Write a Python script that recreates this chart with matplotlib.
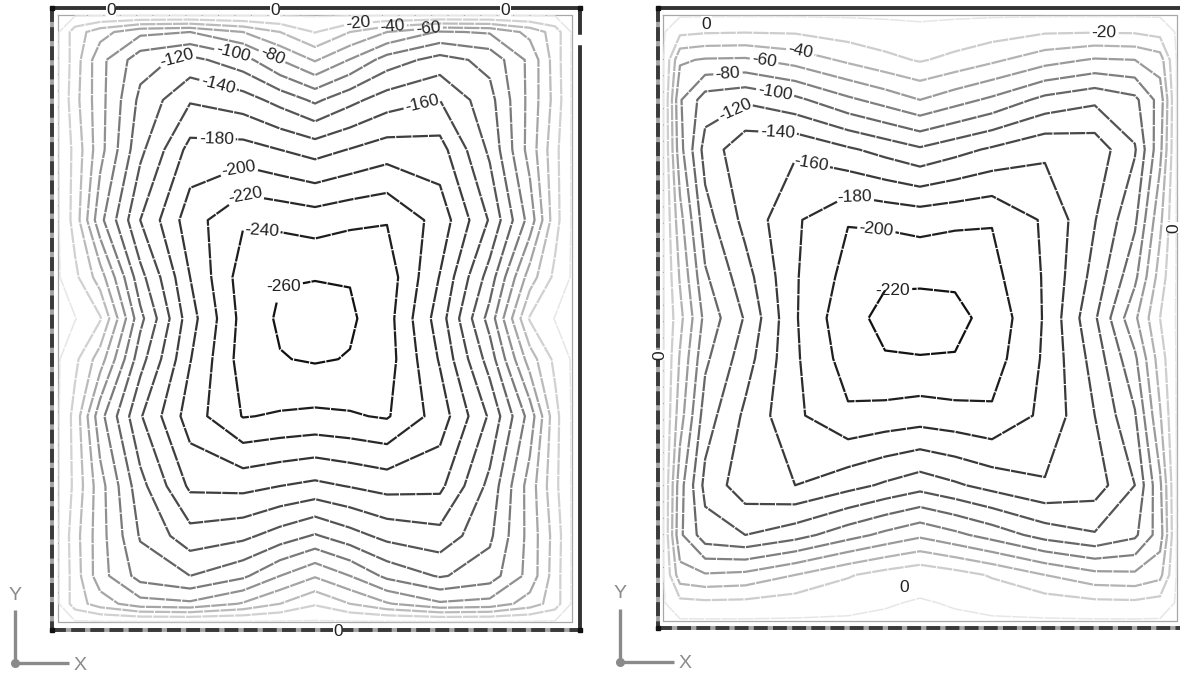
import numpy as np
import matplotlib
matplotlib.use("Agg")
import matplotlib.pyplot as plt
from matplotlib.colors import LinearSegmentedColormap, Normalize

plt.rcParams["font.family"] = ["Liberation Sans", "DejaVu Sans"]
plt.rcParams["lines.scale_dashes"] = False

# Node positions as fractions of plate width (left -> right) and height (top -> bottom)
x_nodes = [0.0, 0.033, 0.082, 0.160, 0.257, 0.360, 0.432, 0.500,
           0.568, 0.640, 0.743, 0.840, 0.918, 0.967, 1.0]
y_nodes = [0.0, 0.028, 0.074, 0.140, 0.222, 0.338, 0.432, 0.500,
           0.567, 0.661, 0.776, 0.858, 0.924, 0.970, 1.0]

# Deflection at the nodes, rows from top edge to bottom edge
slab_a = [
    [2,   2,   2,    2,    2,    2,    2,    2,    2,    2,    2,    2,   2,   2, 2],
    [2, -30, -52,  -75,  -80,  -60,  -40,  -19,  -40,  -60,  -82,  -78, -54, -31, 2],
    [2, -30, -74, -112, -126, -108,  -80,  -58,  -81, -109, -128, -114, -75, -31, 2],
    [2, -33, -73, -125, -158, -149, -133, -116, -134, -150, -160, -127, -74, -33, 2],
    [2, -26, -73, -135, -187, -188, -180, -172, -181, -190, -188, -136, -72, -26, 2],
    [2, -28, -94, -160, -211, -238, -235, -231, -236, -239, -212, -158, -92, -28, 2],
    [2, -15, -50, -133, -200, -250, -259, -259, -259, -251, -199, -131, -50, -15, 2],
    [2,   1, -18, -114, -192, -247, -263, -270, -263, -248, -190, -112, -18,   1, 2],
    [2, -15, -50, -132, -199, -249, -259, -262, -259, -249, -198, -131, -50, -15, 2],
    [2, -27, -93, -158, -210, -241, -238, -236, -238, -242, -211, -157, -92, -27, 2],
    [2, -25, -72, -133, -184, -186, -180, -175, -181, -187, -185, -134, -71, -25, 2],
    [2, -32, -72, -122, -152, -145, -131, -118, -132, -146, -153, -124, -73, -32, 2],
    [2, -30, -72, -108, -120, -104,  -80,  -62,  -80, -105, -122, -110, -73, -30, 2],
    [2, -30, -50,  -72,  -76,  -58,  -40,  -22,  -40,  -58,  -77,  -73, -51, -30, 2],
    [2,   2,   2,    2,    2,    2,    2,    2,    2,    2,    2,    2,   2,   2, 2],
]

slab_b = [
    [2,   2,    2,    2,    2,    2,    2,    2,    2,    2,    2,    2,    2,   2, 2],
    [2, -15,  -18,  -19,  -18,  -11,   -6,   -3,   -6,  -11,  -18,  -19,  -18, -13, 2],
    [2, -57,  -62,  -63,  -52,  -36,  -26,  -18,  -26,  -36,  -52,  -62,  -60, -50, 2],
    [2, -78, -110, -117, -105,  -84,  -72,  -60,  -72,  -84, -106, -116, -105, -72, 2],
    [2, -73, -128, -154, -157, -143, -133, -123, -133, -143, -156, -152, -122, -66, 2],
    [2, -53, -112, -146, -177, -199, -196, -193, -196, -199, -177, -141, -104, -45, 2],
    [2, -42,  -97, -132, -178, -207, -218, -216, -217, -206, -178, -133,  -85, -31, 2],
    [2, -34,  -86, -122, -178, -215, -224, -230, -225, -214, -178, -123,  -64, -20, 2],
    [2, -42,  -96, -131, -177, -209, -219, -219, -219, -209, -177, -132,  -84, -30, 2],
    [2, -51, -110, -144, -176, -197, -193, -190, -193, -197, -175, -140, -102, -42, 2],
    [2, -72, -126, -152, -160, -147, -137, -128, -137, -147, -158, -150, -120, -64, 2],
    [2, -76, -112, -120, -108,  -88,  -75,  -64,  -75,  -88, -108, -118, -104, -70, 2],
    [2, -52,  -58,  -55,  -40,  -22,  -12,   -5,  -12,  -22,  -40,  -54,  -56, -46, 2],
    [2, -14,  -16,  -15,  -10,   -5,   -1,    1,   -1,   -5,  -10,  -15,  -16, -12, 2],
    [2,   2,    2,    2,    2,    2,    2,    2,    2,    2,    2,    2,    2,   2, 2],
]

levels_a = [-260, -240, -220, -200, -180, -160, -140, -120, -100, -80, -60, -40, -20, 0]
levels_b = [-220, -200, -180, -160, -140, -120, -100, -80, -60, -40, -20, 0]

# Where each contour value is written (plate fractions)
label_pos_a = {
    -20: (0.584, 0.010), -40: (0.650, 0.013), -60: (0.720, 0.016),
    -80: (0.416, 0.069), -100: (0.342, 0.058), -120: (0.228, 0.054),
    -140: (0.313, 0.110), -160: (0.708, 0.143), -180: (0.309, 0.181),
    -200: (0.339, 0.226), -220: (0.368, 0.275), -240: (0.397, 0.338),
    -260: (0.436, 0.432),
}
label_pos_b = {
    -20: (0.858, 0.040), -40: (0.267, 0.061), -60: (0.198, 0.069),
    -80: (0.126, 0.094), -100: (0.220, 0.119), -120: (0.136, 0.150),
    -140: (0.224, 0.178), -160: (0.292, 0.228), -180: (0.375, 0.292),
    -200: (0.414, 0.366), -220: (0.447, 0.449),
}
upright_a = {-260}
upright_b = {-220}
# Zero values marked along the edges: (x, y, rotation)
zero_pos_a = [(0.103, -0.008, 0), (0.422, -0.008, 0), (0.870, -0.008, 0), (0.545, 1.015, 0)]
zero_pos_b = [(0.084, 0.015, 0), (0.469, 0.944, 0), (-0.006, 0.561, 90), (0.994, 0.351, 90)]

W, H = 1180, 677
fig = plt.figure(figsize=(W / 100, H / 100), dpi=100)

line_cmap = LinearSegmentedColormap.from_list("slab_grey", ["#121212", "#5a5a5a", "#e6e6e6"])
LABEL_SIZE = 12.5
TEXT_COLOR = "#222222"
LINE_DASH = (0, (11, 0.8))


def add_panel(outer, inner):
    """Axes covering the outer frame; data units are plate fractions."""
    ox0, oy0, ox1, oy1 = outer
    ix0, iy0, ix1, iy1 = inner
    ax = fig.add_axes([ox0 / W, 1 - oy1 / H, (ox1 - ox0) / W, (oy1 - oy0) / H])
    pw, ph = ix1 - ix0, iy1 - iy0
    ax.set_xlim((ox0 - ix0) / pw, (ox1 - ix0) / pw)
    ax.set_ylim((oy1 - iy0) / ph, (oy0 - iy0) / ph)
    ax.set_axis_off()
    return ax


def draw_border(ax, sides):
    x0, x1 = ax.get_xlim()
    yb, yt = ax.get_ylim()
    segs = {
        "top": ([x0, x1], [yt, yt]),
        "bottom": ([x0, x1], [yb, yb]),
        "left": ([x0, x0], [yt, yb]),
        "right": ([x1, x1], [yt, yb]),
    }
    for side, style in sides.items():
        xs, ys = segs[side]
        if style == "solid":
            ax.plot(xs, ys, color="#333333", lw=2.8, solid_capstyle="butt",
                    clip_on=False, zorder=6)
        else:
            ax.plot(xs, ys, color="#a3a3a3", lw=2.8, solid_capstyle="butt",
                    clip_on=False, zorder=6)
            ax.plot(xs, ys, color="#3a3a3a", lw=2.8, linestyle=(0, (10, 3.8)),
                    dash_capstyle="butt", clip_on=False, zorder=7)
    # inner plate outline
    ax.plot([0, 1, 1, 0, 0], [0, 0, 1, 1, 0], color="#a8a8a8", lw=0.9, zorder=1)


def draw_field(ax, field, levels, label_pos, upright, zero_pos):
    X, Y = np.meshgrid(x_nodes, y_nodes)
    Z = np.array(field, dtype=float)
    norm = Normalize(min(levels), max(levels))
    for lev in levels:
        lw = 1.1 if lev == 0 else 1.6
        cs = ax.contour(X, Y, Z, levels=[lev], colors=[line_cmap(norm(lev))],
                        linewidths=lw, zorder=2)
        cs.set_linestyle(LINE_DASH)
        if lev in label_pos:
            texts = cs.clabel([lev], manual=[label_pos[lev]], inline=True,
                              inline_spacing=2, fontsize=LABEL_SIZE,
                              colors=TEXT_COLOR, fmt="%d")
            if lev in upright:
                for t in texts:
                    t.set_rotation(0)
    for zx, zy, rot in zero_pos:
        ax.text(zx, zy, "0", ha="center", va="center", rotation=rot,
                fontsize=LABEL_SIZE, color=TEXT_COLOR, zorder=9, clip_on=False,
                bbox=dict(facecolor="white", edgecolor="none", pad=0.4))


# Slab A
ax_a = add_panel((52, 8, 580, 630), (58, 15, 572, 622))
draw_field(ax_a, slab_a, levels_a, label_pos_a, upright_a, zero_pos_a)
draw_border(ax_a, {"top": "solid", "right": "solid", "bottom": "dashed", "left": "dashed"})
xa0, xa1 = ax_a.get_xlim()
ax_a.plot([xa1, xa1], [0.036, 0.046], color="white", lw=3.2, clip_on=False, zorder=8)
yb, yt = ax_a.get_ylim()
ax_a.plot([xa0, xa1, xa1, xa0], [yt, yt, yb, yb], linestyle="none", marker="s",
          ms=3.5, color="#111111", clip_on=False, zorder=8)

# Slab B
ax_b = add_panel((658, 8, 1183, 628), (663, 15, 1177, 621))
draw_field(ax_b, slab_b, levels_b, label_pos_b, upright_b, zero_pos_b)
draw_border(ax_b, {"top": "solid", "bottom": "dashed", "left": "dashed"})
xb0, xb1 = ax_b.get_xlim()
yb, yt = ax_b.get_ylim()
ax_b.plot([xb0, xb0], [yt, yb], linestyle="none", marker="s",
          ms=3.5, color="#111111", clip_on=False, zorder=8)

# Coordinate axis glyphs below each slab
ax_icons = fig.add_axes([0, 0, 1, 1], zorder=-1)
ax_icons.set_xlim(0, W)
ax_icons.set_ylim(H, 0)
ax_icons.set_axis_off()
for ox, oy in [(15, 663), (620, 662)]:
    ax_icons.plot([ox, ox], [oy, oy - 53], color="#8a8a8a", lw=2.4, solid_capstyle="butt")
    ax_icons.plot([ox, ox + 54], [oy, oy], color="#8a8a8a", lw=2.4, solid_capstyle="butt")
    ax_icons.plot([ox], [oy], marker="o", ms=5.5, color="#8a8a8a")
    ax_icons.text(ox, oy - 68, "Y", ha="center", va="center", fontsize=14, color="#8a8a8a")
    ax_icons.text(ox + 65, oy + 2, "X", ha="center", va="center", fontsize=14, color="#8a8a8a")

fig.savefig("out.png", dpi=100, facecolor="white")
